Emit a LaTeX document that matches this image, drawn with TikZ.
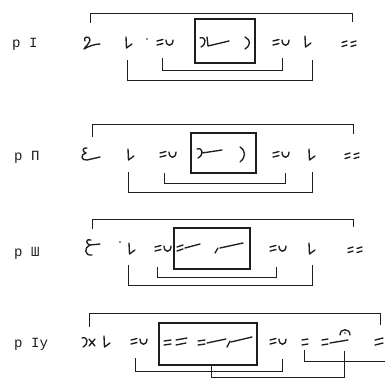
\documentclass[tikz,border=0pt]{standalone}
\usepackage{fontspec}
\newfontfamily\labfont{Liberation Mono}
\definecolor{ink}{HTML}{1E1E1E}
\tikzset{
  glyph/.style={draw=ink, line width=1.15pt, line cap=round, line join=round},
  brk/.style={draw=ink, line width=0.8pt},
  frame/.style={draw=ink, line width=1pt, inner sep=0pt},
  lab/.style={font=\labfont\fontsize{12}{13}\selectfont, anchor=base west, inner sep=0pt, text=ink},
  eqv/.pic={\draw[glyph] (0,-2)--(6,-3.5) (0,2)--(6,0.5);
            \draw[glyph] (9,-3) .. controls (9,4) and (16,4) .. (16,-3);},
  ell/.pic={\draw[glyph] (0,-6) -- (0.5,5) -- (6,1);},
  dbl/.pic={\draw[glyph] (0,-1.5)--(5,-3) (0,2.5)--(5,1) (9,-1.5)--(14,-3) (9,2.5)--(14,1);},
}
\begin{document}
\begin{tikzpicture}[x=0.03cm,y=-0.03cm]
\useasboundingbox (0,0) rectangle (385,378);

% ---------------- Row I ----------------
\node[lab] (l1) at (12,47) {p I};
\draw[glyph] (85,41) .. controls (82,37) and (90,35) .. (90,40) .. controls (89,44) and (85,47) .. (84,49) .. controls (89,46) and (95,44) .. (100,44);
\pic at (126,43) {ell};
\fill[ink] (147,39) circle (0.8);
\pic at (157,43) {eqv};
\node[frame, minimum width=1.8cm, minimum height=1.32cm] (box1) at (225,41) {};
\draw[glyph] (200,38) .. controls (206,36) and (207,44) .. (201,47);
\draw[glyph] (207,37) -- (208,46) -- (229,41);
\draw[glyph] (245,37) .. controls (251,40) and (251,45) .. (245,49);
\pic at (273,43) {eqv};
\pic at (305,42) {ell};
\pic at (342,44) {dbl};
\coordinate (t1a) at (90,23); \coordinate (t1b) at (352,22);
\draw[brk] (t1a) -- ++(0,-10) -| (t1b);
\coordinate (i1a) at (162,58); \coordinate (i1b) at (282,58);
\draw[brk] (i1a) -- ++(0,12) -| (i1b);
\coordinate (o1a) at (127,60); \coordinate (o1b) at (312,60);
\draw[brk] (o1a) -- ++(0,20) -| (o1b);

% ---------------- Row II ----------------
\node[lab] (l2) at (14,160) {p П};
\draw[glyph] (87,148) .. controls (82,147) and (82,152) .. (86,153) .. controls (80,154) and (81,161) .. (87,160) -- (100,157);
\pic at (128,155) {ell};
\pic at (160,155) {eqv};
\node[frame, minimum width=1.95cm, minimum height=1.2cm] (box2) at (223.5,153) {};
\draw[glyph] (197,149) .. controls (203,147) and (204,155) .. (198,158);
\draw[glyph] (202,153) -- (222,150);
\draw[glyph] (240,147) .. controls (246,151) and (246,157) .. (240,162);
\pic at (273,155) {eqv};
\pic at (309,155) {ell};
\pic at (345,156) {dbl};
\coordinate (t2a) at (92,137); \coordinate (t2b) at (353,134);
\draw[brk] (t2a) -- ++(0,-13) -| (t2b);
\coordinate (i2a) at (164,173); \coordinate (i2b) at (285,173);
\draw[brk] (i2a) -- ++(0,10) -| (i2b);
\coordinate (o2a) at (128,172); \coordinate (o2b) at (312,172);
\draw[brk] (o2a) -- ++(0,20) -| (o2b);

% ---------------- Row III ----------------
\node[lab] (l3) at (14,256) {p Ш};
\draw[glyph] (91,240) .. controls (86,238) and (85,244) .. (90,245) -- (100,244);
\draw[glyph] (90,245) .. controls (84,247) and (84,256) .. (92,255);
\fill[ink] (120,242) circle (0.8);
\pic at (129,249) {ell};
\pic at (155,249) {eqv};
\node[frame, minimum width=2.28cm, minimum height=1.23cm] (box3) at (212,248.5) {};
\draw[glyph] (177,247)--(183,245) (177,251)--(183,249);
\draw[glyph] (185,248)--(200,244);
\draw[glyph] (215,253)--(218,248);
\draw[glyph] (220,248)--(243,243);
\pic at (270,249) {eqv};
\pic at (309,249) {ell};
\pic at (348,250) {dbl};
\coordinate (t3a) at (92,229); \coordinate (t3b) at (353,227);
\draw[brk] (t3a) -- ++(0,-10) -| (t3b);
\coordinate (i3a) at (157,267); \coordinate (i3b) at (276,267);
\draw[brk] (i3a) -- ++(0,10) -| (i3b);
\coordinate (o3a) at (128,265); \coordinate (o3b) at (312,265);
\draw[brk] (o3a) -- ++(0,20) -| (o3b);

% ---------------- Row IV ----------------
\node[lab] (l4) at (14,347) {p Iy};
\draw[glyph] (82,338) .. controls (88,336) and (89,344) .. (83,347);
\draw[glyph] (89,339)--(95,346) (95,339)--(89,346);
\pic at (104,342) {ell};
\pic at (131,342) {eqv};
\node[frame, minimum width=2.94cm, minimum height=1.26cm] (box4) at (208,344) {};
\draw[glyph] (164,341)--(171,340) (164,345)--(171,344);
\draw[glyph] (176,340)--(187,338) (176,345)--(186,343);
\draw[glyph] (198,341)--(205,340) (198,345)--(205,344);
\draw[glyph] (207,343)--(226,339);
\draw[glyph] (227,347)--(230,341);
\draw[glyph] (231,342)--(252,337);
\pic at (270,342) {eqv};
\draw[glyph] (302,340)--(308,339) (302,345)--(308,344);
\draw[glyph] (322,340)--(328,339) (322,345)--(328,344);
\draw[glyph] (330,343)--(348,340);
\draw[glyph] (340,335) .. controls (340,328) and (350,328) .. (350,335);
\fill[ink] (345,333) circle (0.8);
\draw[glyph] (375,340)--(383,338) (375,345)--(383,343);
\coordinate (t4a) at (89,327); \coordinate (t4b) at (380,325);
\draw[brk] (t4a) -- ++(0,-14) -| (t4b);
\coordinate (i4a) at (135,358); \coordinate (i4b) at (282,359);
\draw[brk] (i4a) -- ++(0,13) -| (i4b);
\coordinate (j4a) at (211,377); \coordinate (j4b) at (344,351);
\draw[brk] (box4.south -| j4a) -- (j4a) -| (j4b);
\coordinate (k4a) at (304,350); \coordinate (k4b) at (385,361);
\draw[brk] (k4a) |- (k4b);
\end{tikzpicture}
\end{document}
